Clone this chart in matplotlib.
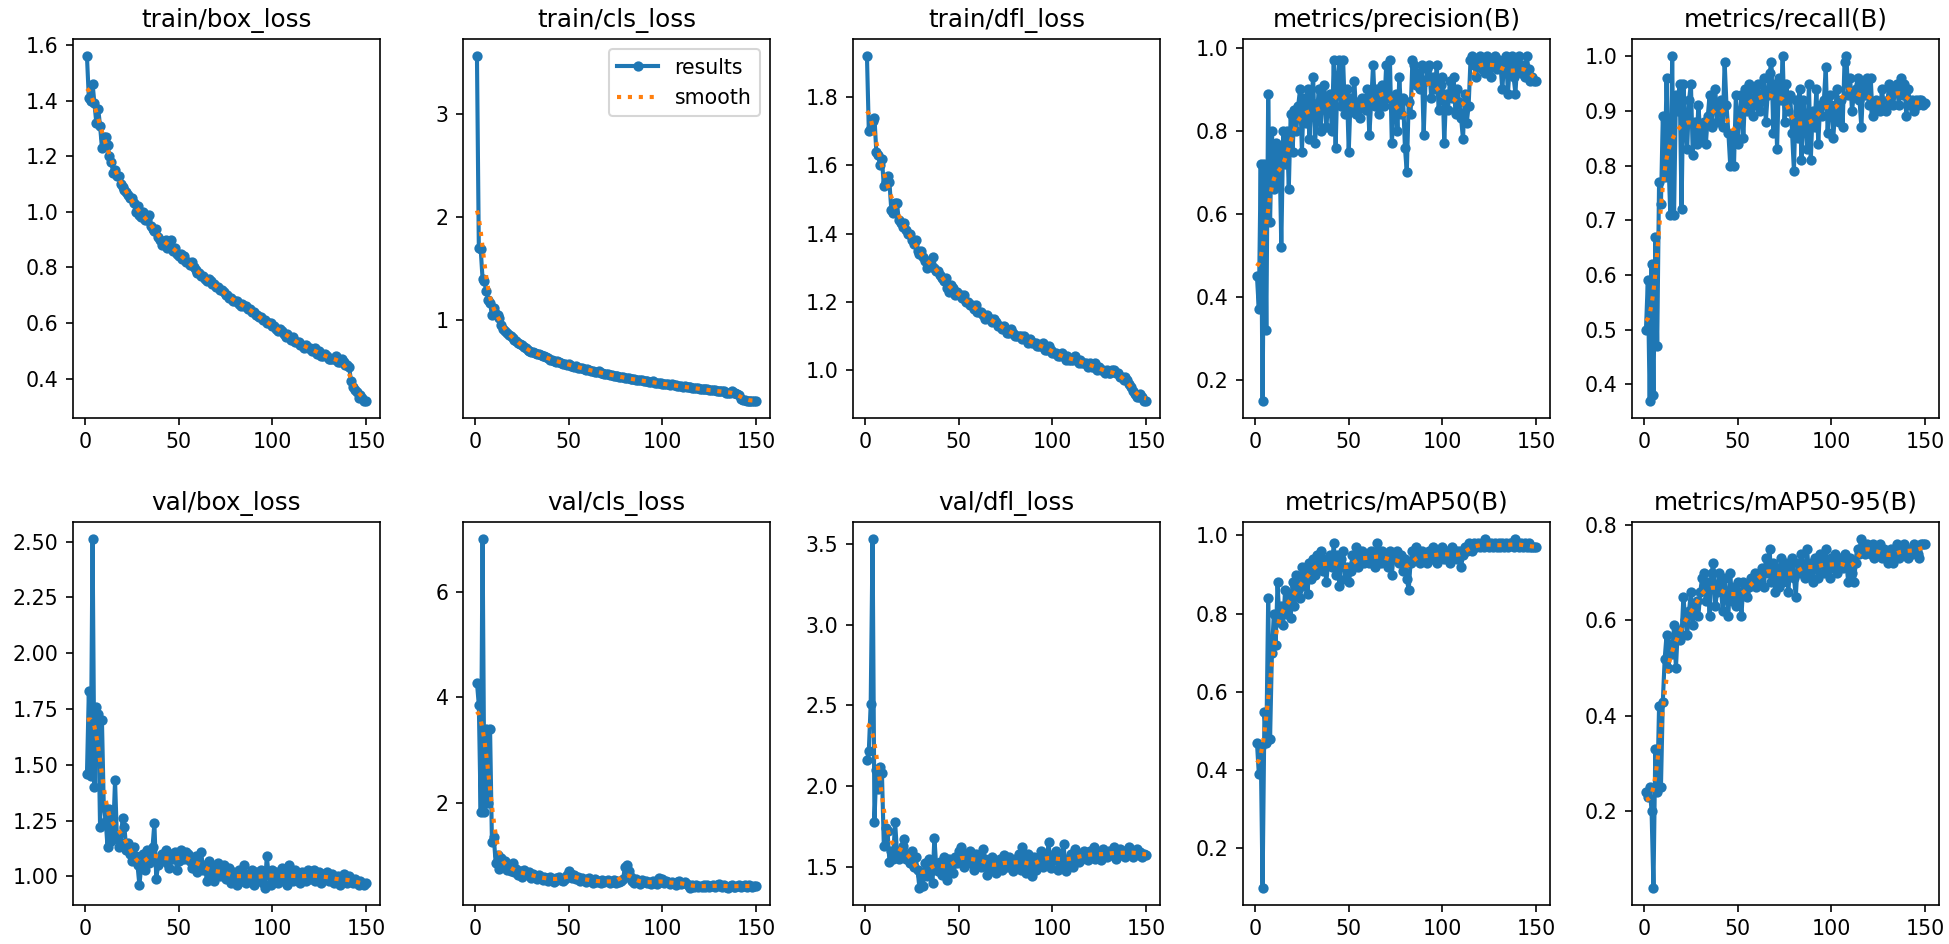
import numpy as np
import matplotlib
matplotlib.use("Agg")
import matplotlib.pyplot as plt
from matplotlib.ticker import MultipleLocator

epochs = list(range(1, 151))

titles = ["train/box_loss", "train/cls_loss", "train/dfl_loss", "metrics/precision(B)", "metrics/recall(B)",
          "val/box_loss", "val/cls_loss", "val/dfl_loss", "metrics/mAP50(B)", "metrics/mAP50-95(B)"]

train_box = [
    1.56, 1.41, 1.40, 1.46, 1.39, 1.32, 1.37, 1.31, 1.23, 1.27,
    1.27, 1.24, 1.20, 1.18, 1.14, 1.15, 1.13, 1.13, 1.10, 1.09,
    1.08, 1.07, 1.06, 1.05, 1.05, 1.03, 1.00, 1.02, 0.99, 0.98,
    1.00, 0.97, 0.97, 0.99, 0.95, 0.94, 0.93, 0.94, 0.91, 0.90,
    0.88, 0.89, 0.90, 0.87, 0.88, 0.90, 0.86, 0.87, 0.85, 0.84,
    0.85, 0.83, 0.84, 0.82, 0.82, 0.81, 0.82, 0.80, 0.79, 0.78,
    0.78, 0.77, 0.77, 0.76, 0.75, 0.76, 0.75, 0.74, 0.74, 0.73,
    0.73, 0.72, 0.72, 0.71, 0.70, 0.70, 0.69, 0.69, 0.68, 0.68,
    0.68, 0.67, 0.66, 0.67, 0.66, 0.66, 0.65, 0.65, 0.64, 0.64,
    0.63, 0.63, 0.62, 0.62, 0.61, 0.61, 0.60, 0.60, 0.60, 0.59,
    0.59, 0.58, 0.57, 0.58, 0.57, 0.56, 0.55, 0.56, 0.55, 0.54,
    0.55, 0.53, 0.53, 0.53, 0.52, 0.52, 0.51, 0.52, 0.51, 0.51,
    0.50, 0.50, 0.51, 0.49, 0.50, 0.48, 0.48, 0.49, 0.48, 0.47,
    0.47, 0.47, 0.47, 0.48, 0.46, 0.46, 0.47, 0.46, 0.45, 0.45,
    0.44, 0.39, 0.37, 0.36, 0.35, 0.33, 0.34, 0.33, 0.32, 0.32]

train_cls = [
    3.56, 1.70, 1.69, 1.40, 1.38, 1.28, 1.20, 1.17, 1.05, 1.12,
    1.06, 1.05, 1.02, 0.95, 0.92, 0.90, 0.88, 0.86, 0.85, 0.83,
    0.81, 0.80, 0.78, 0.77, 0.76, 0.74, 0.73, 0.71, 0.70, 0.69,
    0.69, 0.68, 0.67, 0.67, 0.66, 0.65, 0.65, 0.64, 0.63, 0.62,
    0.62, 0.61, 0.60, 0.61, 0.60, 0.59, 0.58, 0.58, 0.57, 0.58,
    0.56, 0.56, 0.55, 0.56, 0.54, 0.54, 0.54, 0.53, 0.52, 0.53,
    0.52, 0.51, 0.51, 0.50, 0.50, 0.51, 0.49, 0.49, 0.48, 0.48,
    0.48, 0.47, 0.47, 0.46, 0.46, 0.46, 0.45, 0.45, 0.45, 0.44,
    0.44, 0.44, 0.43, 0.43, 0.43, 0.42, 0.42, 0.42, 0.42, 0.41,
    0.41, 0.41, 0.40, 0.40, 0.41, 0.39, 0.39, 0.39, 0.39, 0.38,
    0.38, 0.38, 0.38, 0.37, 0.38, 0.37, 0.37, 0.36, 0.36, 0.36,
    0.35, 0.36, 0.35, 0.35, 0.35, 0.34, 0.34, 0.34, 0.34, 0.33,
    0.33, 0.33, 0.33, 0.33, 0.32, 0.32, 0.32, 0.32, 0.31, 0.31,
    0.31, 0.31, 0.31, 0.30, 0.30, 0.30, 0.31, 0.30, 0.30, 0.29,
    0.28, 0.24, 0.23, 0.23, 0.22, 0.22, 0.22, 0.22, 0.22, 0.22]

train_dfl = [
    1.92, 1.70, 1.71, 1.73, 1.74, 1.64, 1.63, 1.60, 1.62, 1.54,
    1.55, 1.57, 1.55, 1.47, 1.46, 1.49, 1.49, 1.44, 1.43, 1.42,
    1.43, 1.41, 1.40, 1.40, 1.38, 1.37, 1.38, 1.35, 1.34, 1.35,
    1.33, 1.32, 1.30, 1.32, 1.31, 1.33, 1.30, 1.29, 1.29, 1.28,
    1.27, 1.26, 1.27, 1.24, 1.23, 1.25, 1.24, 1.22, 1.23, 1.22,
    1.22, 1.21, 1.22, 1.20, 1.20, 1.19, 1.19, 1.18, 1.19, 1.17,
    1.17, 1.17, 1.16, 1.15, 1.16, 1.15, 1.15, 1.14, 1.15, 1.14,
    1.13, 1.13, 1.12, 1.13, 1.12, 1.11, 1.11, 1.12, 1.11, 1.10,
    1.10, 1.10, 1.10, 1.09, 1.10, 1.09, 1.08, 1.09, 1.08, 1.08,
    1.08, 1.07, 1.07, 1.07, 1.08, 1.06, 1.06, 1.07, 1.06, 1.05,
    1.05, 1.05, 1.04, 1.04, 1.05, 1.04, 1.03, 1.04, 1.03, 1.03,
    1.03, 1.04, 1.03, 1.02, 1.03, 1.02, 1.02, 1.02, 1.01, 1.02,
    1.01, 1.01, 1.02, 1.00, 1.01, 1.00, 1.00, 0.99, 1.00, 0.99,
    0.99, 1.00, 1.00, 0.99, 0.99, 0.98, 0.98, 0.97, 0.98, 0.97,
    0.96, 0.95, 0.94, 0.93, 0.92, 0.92, 0.93, 0.92, 0.91, 0.91]

precision = [
    0.45, 0.37, 0.72, 0.15, 0.72, 0.32, 0.89, 0.58, 0.80, 0.66,
    0.77, 0.67, 0.76, 0.52, 0.80, 0.72, 0.80, 0.66, 0.84, 0.75,
    0.85, 0.80, 0.86, 0.90, 0.75, 0.88, 0.82, 0.90, 0.78, 0.87,
    0.93, 0.77, 0.84, 0.90, 0.80, 0.88, 0.91, 0.81, 0.86, 0.89,
    0.80, 0.97, 0.76, 0.93, 0.97, 0.86, 0.97, 0.84, 0.90, 0.75,
    0.88, 0.85, 0.92, 0.84, 0.87, 0.83, 0.88, 0.86, 0.85, 0.90,
    0.79, 0.87, 0.96, 0.86, 0.90, 0.84, 0.88, 0.91, 0.86, 0.96,
    0.88, 0.97, 0.77, 0.85, 0.89, 0.80, 0.93, 0.84, 0.88, 0.76,
    0.70, 0.87, 0.84, 0.97, 0.96, 0.91, 0.94, 0.90, 0.96, 0.79,
    0.92, 0.95, 0.96, 0.88, 0.93, 0.90, 0.96, 0.85, 0.91, 0.93,
    0.77, 0.89, 0.85, 0.92, 0.88, 0.93, 0.84, 0.90, 0.87, 0.83,
    0.78, 0.89, 0.82, 0.86, 0.97, 0.98, 0.96, 0.93, 0.97, 0.98,
    0.95, 0.97, 0.94, 0.98, 0.96, 0.93, 0.97, 0.98, 0.95, 0.97,
    0.96, 0.90, 0.97, 0.98, 0.89, 0.96, 0.98, 0.93, 0.89, 0.97,
    0.98, 0.94, 0.96, 0.93, 0.98, 0.95, 0.92, 0.93, 0.92, 0.92]

recall = [
    0.50, 0.59, 0.37, 0.62, 0.38, 0.67, 0.47, 0.77, 0.73, 0.89,
    0.78, 0.96, 0.81, 0.71, 1.00, 0.71, 0.93, 0.90, 0.95, 0.72,
    0.95, 0.88, 0.83, 0.92, 0.95, 0.82, 0.88, 0.84, 0.91, 0.86,
    0.85, 0.88, 0.84, 0.89, 0.93, 0.87, 0.91, 0.94, 0.88, 0.90,
    0.92, 0.87, 0.99, 0.91, 0.86, 0.80, 0.85, 0.80, 0.93, 0.84,
    0.89, 0.93, 0.85, 0.94, 0.90, 0.95, 0.92, 0.89, 0.94, 0.91,
    0.95, 0.90, 0.92, 0.96, 0.88, 0.93, 0.97, 0.99, 0.86, 0.95,
    0.83, 0.96, 0.92, 1.00, 0.88, 0.95, 0.90, 0.93, 0.86, 0.79,
    0.92, 0.85, 0.94, 0.81, 0.92, 0.88, 0.83, 0.95, 0.81, 0.90,
    0.87, 0.94, 0.84, 0.91, 0.89, 0.92, 0.98, 0.86, 0.93, 0.91,
    0.85, 0.90, 0.94, 0.88, 0.92, 0.87, 0.99, 1.00, 0.93, 0.96,
    0.90, 0.93, 0.94, 0.96, 0.92, 0.87, 0.95, 0.93, 0.96, 0.91,
    0.96, 0.89, 0.90, 0.92, 0.91, 0.90, 0.94, 0.91, 0.90, 0.92,
    0.95, 0.93, 0.91, 0.94, 0.95, 0.91, 0.96, 0.93, 0.95, 0.89,
    0.94, 0.91, 0.92, 0.90, 0.92, 0.91, 0.92, 0.92, 0.91, 0.915]

val_box = [
    1.46, 1.83, 1.45, 2.51, 1.40, 1.76, 1.73, 1.22, 1.70, 1.31,
    1.25, 1.13, 1.30, 1.16, 1.20, 1.43, 1.17, 1.13, 1.15, 1.26,
    1.22, 1.12, 1.15, 1.10, 1.07, 1.13, 1.09, 1.05, 0.96, 1.05,
    1.10, 1.03, 1.12, 1.06, 1.08, 1.13, 1.24, 0.99, 1.05, 1.07,
    1.10, 1.09, 1.12, 1.06, 1.04, 1.10, 1.08, 1.11, 1.03, 1.07,
    1.12, 1.09, 1.08, 1.11, 1.10, 1.07, 1.04, 1.05, 1.09, 1.02,
    1.06, 1.11, 1.03, 1.05, 0.98, 1.07, 1.01, 1.04, 0.98, 1.03,
    1.06, 1.00, 1.02, 1.05, 0.99, 1.01, 1.04, 0.97, 1.02, 1.00,
    0.96, 1.03, 1.00, 0.98, 1.05, 0.97, 1.01, 0.99, 1.03, 0.96,
    1.02, 0.98, 1.00, 1.03, 0.97, 0.95, 1.09, 1.01, 0.96, 1.03,
    0.99, 1.02, 0.97, 1.00, 1.04, 0.98, 1.01, 0.96, 1.05, 1.00,
    0.98, 1.03, 0.99, 1.01, 0.97, 1.02, 1.00, 0.98, 1.03, 0.99,
    1.01, 1.03, 0.98, 1.00, 1.02, 0.97, 1.01, 0.99, 1.02, 0.98,
    1.00, 1.01, 0.97, 0.99, 1.00, 0.96, 0.98, 1.01, 0.99, 0.97,
    1.00, 0.98, 0.97, 0.99, 0.97, 0.96, 0.98, 0.97, 0.96, 0.97]

val_cls = [
    4.28, 3.85, 1.83, 7.00, 1.82, 3.40, 2.00, 3.40, 1.25, 1.35,
    0.85, 1.00, 0.75, 0.95, 0.80, 0.90, 0.72, 0.78, 0.70, 0.85,
    0.68, 0.75, 0.63, 0.70, 0.60, 0.72, 0.66, 0.62, 0.68, 0.58,
    0.65, 0.60, 0.56, 0.63, 0.58, 0.54, 0.60, 0.57, 0.52, 0.59,
    0.55, 0.50, 0.58, 0.53, 0.60, 0.54, 0.51, 0.56, 0.62, 0.70,
    0.65, 0.58, 0.62, 0.55, 0.60, 0.52, 0.58, 0.54, 0.50, 0.56,
    0.58, 0.52, 0.48, 0.55, 0.50, 0.52, 0.47, 0.53, 0.49, 0.51,
    0.54, 0.48, 0.50, 0.53, 0.47, 0.51, 0.49, 0.52, 0.55, 0.78,
    0.82, 0.70, 0.60, 0.52, 0.48, 0.55, 0.50, 0.46, 0.53, 0.49,
    0.51, 0.47, 0.50, 0.45, 0.52, 0.48, 0.46, 0.58, 0.50, 0.55,
    0.47, 0.52, 0.49, 0.45, 0.50, 0.47, 0.44, 0.49, 0.51, 0.46,
    0.48, 0.50, 0.45, 0.42, 0.39, 0.44, 0.41, 0.43, 0.40, 0.42,
    0.40, 0.43, 0.41, 0.44, 0.40, 0.42, 0.43, 0.41, 0.44, 0.46,
    0.42, 0.40, 0.43, 0.41, 0.39, 0.42, 0.44, 0.41, 0.40, 0.42,
    0.43, 0.40, 0.42, 0.44, 0.41, 0.43, 0.42, 0.41, 0.42, 0.42]

val_dfl = [
    2.16, 2.22, 2.51, 3.53, 1.78, 2.10, 1.98, 2.12, 2.08, 1.63,
    1.74, 1.72, 1.53, 1.60, 1.55, 1.78, 1.60, 1.55, 1.58, 1.63,
    1.67, 1.55, 1.58, 1.52, 1.60, 1.50, 1.56, 1.48, 1.37, 1.45,
    1.38, 1.52, 1.44, 1.55, 1.47, 1.40, 1.68, 1.50, 1.47, 1.53,
    1.45, 1.56, 1.50, 1.42, 1.55, 1.50, 1.46, 1.56, 1.52, 1.60,
    1.62, 1.55, 1.50, 1.58, 1.52, 1.60, 1.55, 1.48, 1.58, 1.53,
    1.56, 1.50, 1.61, 1.55, 1.45, 1.52, 1.48, 1.56, 1.50, 1.46,
    1.52, 1.55, 1.48, 1.57, 1.53, 1.50, 1.56, 1.52, 1.47, 1.55,
    1.50, 1.58, 1.48, 1.62, 1.52, 1.46, 1.58, 1.50, 1.44, 1.56,
    1.48, 1.55, 1.52, 1.60, 1.50, 1.56, 1.53, 1.65, 1.49, 1.57,
    1.54, 1.60, 1.48, 1.56, 1.52, 1.64, 1.47, 1.55, 1.53, 1.58,
    1.50, 1.61, 1.56, 1.53, 1.58, 1.55, 1.60, 1.57, 1.54, 1.60,
    1.56, 1.62, 1.55, 1.59, 1.57, 1.54, 1.61, 1.58, 1.56, 1.60,
    1.57, 1.59, 1.62, 1.55, 1.58, 1.61, 1.57, 1.60, 1.56, 1.59,
    1.62, 1.58, 1.56, 1.60, 1.61, 1.57, 1.59, 1.56, 1.58, 1.57]

map50 = [
    0.47, 0.39, 0.46, 0.10, 0.55, 0.47, 0.84, 0.48, 0.70, 0.80,
    0.72, 0.88, 0.78, 0.82, 0.77, 0.86, 0.80, 0.85, 0.79, 0.88,
    0.82, 0.90, 0.86, 0.84, 0.92, 0.87, 0.91, 0.85, 0.93, 0.89,
    0.94, 0.90, 0.95, 0.92, 0.96, 0.91, 0.94, 0.88, 0.93, 0.95,
    0.92, 0.98, 0.90, 0.95, 0.87, 0.94, 0.96, 0.89, 0.92, 0.88,
    0.91, 0.95, 0.93, 0.97, 0.92, 0.94, 0.96, 0.93, 0.95, 0.94,
    0.93, 0.96, 0.94, 0.92, 0.98, 0.95, 0.93, 0.96, 0.94, 0.95,
    0.92, 0.96, 0.90, 0.95, 0.94, 0.96, 0.93, 0.95, 0.91, 0.94,
    0.89, 0.86, 0.93, 0.96, 0.94, 0.97, 0.95, 0.93, 0.96, 0.94,
    0.95, 0.93, 0.96, 0.94, 0.97, 0.95, 0.93, 0.96, 0.95, 0.97,
    0.94, 0.96, 0.95, 0.93, 0.97, 0.95, 0.96, 0.94, 0.96, 0.92,
    0.95, 0.97, 0.96, 0.98, 0.97, 0.96, 0.98, 0.97, 0.98, 0.97,
    0.98, 0.97, 0.99, 0.98, 0.97, 0.98, 0.97, 0.98, 0.97, 0.98,
    0.97, 0.98, 0.97, 0.98, 0.97, 0.98, 0.98, 0.97, 0.99, 0.98,
    0.97, 0.98, 0.97, 0.98, 0.97, 0.98, 0.97, 0.97, 0.97, 0.97]

map50_95 = [
    0.24, 0.23, 0.25, 0.20, 0.04, 0.33, 0.24, 0.42, 0.25, 0.43,
    0.52, 0.57, 0.50, 0.55, 0.53, 0.59, 0.50, 0.58, 0.56, 0.57,
    0.65, 0.60, 0.57, 0.62, 0.66, 0.59, 0.63, 0.64, 0.61, 0.66,
    0.69, 0.70, 0.64, 0.68, 0.61, 0.70, 0.72, 0.63, 0.66, 0.70,
    0.67, 0.62, 0.69, 0.65, 0.61, 0.70, 0.64, 0.67, 0.63, 0.68,
    0.66, 0.61, 0.68, 0.66, 0.65, 0.67, 0.69, 0.68, 0.70, 0.67,
    0.69, 0.68, 0.71, 0.67, 0.73, 0.70, 0.75, 0.68, 0.72, 0.66,
    0.71, 0.67, 0.73, 0.68, 0.70, 0.72, 0.66, 0.71, 0.73, 0.69,
    0.65, 0.72, 0.70, 0.74, 0.71, 0.69, 0.75, 0.70, 0.72, 0.68,
    0.73, 0.71, 0.69, 0.74, 0.72, 0.70, 0.75, 0.71, 0.69, 0.73,
    0.71, 0.74, 0.70, 0.72, 0.73, 0.71, 0.74, 0.72, 0.68, 0.73,
    0.70, 0.68, 0.72, 0.75, 0.74, 0.77, 0.76, 0.74, 0.76, 0.75,
    0.74, 0.76, 0.73, 0.75, 0.74, 0.76, 0.73, 0.75, 0.74, 0.72,
    0.73, 0.75, 0.72, 0.74, 0.76, 0.73, 0.75, 0.74, 0.76, 0.75,
    0.73, 0.75, 0.74, 0.76, 0.75, 0.74, 0.73, 0.76, 0.76, 0.76]

series = [train_box, train_cls, train_dfl, precision, recall,
          val_box, val_cls, val_dfl, map50, map50_95]

ytick_steps = [0.2, 1, 0.2, 0.2, 0.1, 0.25, 2, 0.5, 0.2, 0.2]


def gaussian_smooth(y, sigma=3.0, truncate=4.0):
    y = np.asarray(y, dtype=float)
    r = int(truncate * sigma + 0.5)
    k = np.exp(-0.5 * (np.arange(-r, r + 1) / sigma) ** 2)
    k /= k.sum()
    yp = np.pad(y, r, mode="symmetric")
    return np.convolve(yp, k, mode="valid")


W, H, DPI = 1949, 944, 148
fig = plt.figure(figsize=(W / DPI, H / DPI), dpi=DPI)

col_left = [73, 463, 853, 1243, 1632]
ax_w = 307
row_top = [39, 522]
ax_h = [379, 383]

for i, (title, y) in enumerate(zip(titles, series)):
    r, c = divmod(i, 5)
    left = col_left[c] / W
    bottom = 1 - (row_top[r] + ax_h[r]) / H
    ax = fig.add_axes([left, bottom, ax_w / W, ax_h[r] / H])
    ax.plot(epochs, y, marker=".", label="results", linewidth=2, markersize=8)
    ax.plot(epochs, gaussian_smooth(y), ":", label="smooth", linewidth=2)
    ax.set_title(title, fontsize=12)
    ax.yaxis.set_major_locator(MultipleLocator(ytick_steps[i]))
    if i == 1:
        ax.legend()

fig.savefig("out.png", dpi=DPI)
